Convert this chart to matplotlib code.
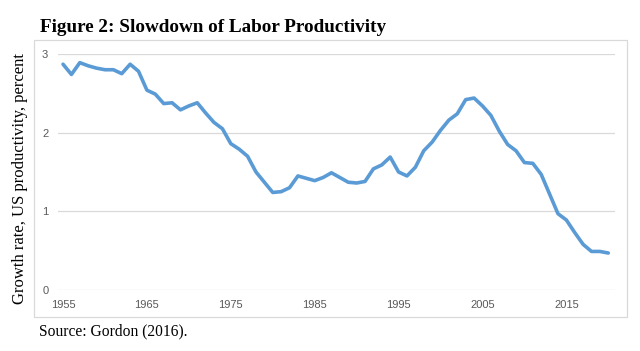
import matplotlib
matplotlib.use("Agg")
import matplotlib.pyplot as plt
from matplotlib.patches import Rectangle

# yearly labor productivity growth, percent
years = list(range(1955, 2021))
growth = [2.87, 2.74, 2.89, 2.85, 2.82, 2.80, 2.80, 2.75, 2.87, 2.78,
          2.54, 2.49, 2.37, 2.38, 2.29, 2.34, 2.38, 2.25, 2.13, 2.05,
          1.86, 1.79, 1.70, 1.50, 1.37, 1.24, 1.25, 1.30, 1.45, 1.42,
          1.39, 1.43, 1.49, 1.43, 1.37, 1.36, 1.38, 1.54, 1.59, 1.69,
          1.50, 1.45, 1.56, 1.77, 1.88, 2.03, 2.16, 2.24, 2.42, 2.44,
          2.34, 2.22, 2.02, 1.85, 1.77, 1.62, 1.61, 1.47, 1.22, 0.97,
          0.89, 0.73, 0.58, 0.49, 0.49, 0.47]
xticks = [1955, 1965, 1975, 1985, 1995, 2005, 2015]
yticks = [0, 1, 2, 3]

W, H = 640, 351
fig = plt.figure(figsize=(6.4, 3.51), dpi=100)
ax = fig.add_axes([58 / W, 1 - 290 / H, (615 - 58) / W, (290 - 54) / H])

ax.plot(years, growth, color="#5B9BD5", lw=2.6, solid_joinstyle="round",
        solid_capstyle="round", zorder=3)

ax.set_xlim(1954.4, 2020.8)
ax.set_ylim(0, 3)
ax.set_xticks(xticks)
ax.set_yticks(yticks)
ax.grid(axis="y", color="#D9D9D9", lw=0.9)
for s in ax.spines.values():
    s.set_visible(False)
ax.tick_params(length=0, labelsize=8, labelcolor="#595959", pad=7)
for lab in ax.get_xticklabels() + ax.get_yticklabels():
    lab.set_family("Liberation Sans")

# chart area border
fig.patches.append(Rectangle((34 / W, 1 - 317 / H), (627 - 34) / W, (317 - 40) / H,
                             transform=fig.transFigure, fill=False,
                             edgecolor="#D9D9D9", lw=0.9))

fig.text(40 / W, 1 - 27 / H, "Figure 2: Slowdown of Labor Productivity",
         family="Liberation Serif", weight="bold", fontsize=13.8, va="center")
fig.text(20 / W, 1 - 178 / H, "Growth rate, US productivity, percent",
         family="Liberation Serif", fontsize=12, rotation=90, ha="center", va="center")
fig.text(39 / W, 1 - 331 / H, "Source: Gordon (2016).",
         family="Liberation Serif", fontsize=11.2, va="center")

fig.savefig("out.png", dpi=100)
